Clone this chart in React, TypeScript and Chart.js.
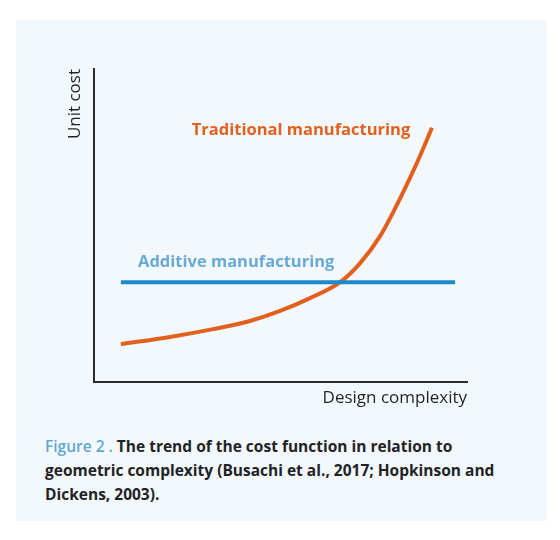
import { useEffect, useRef } from "react"
import { Chart, registerables, type Plugin } from "chart.js"

Chart.register(...registerables)

// traditional manufacturing: unit cost vs design complexity (0-100 relative units)
const tradX = [7.2, 20.4, 31.9, 41.8, 49.9, 57.9, 66.0, 71.3, 76.7, 82.0, 87.4, 90.6]
const tradY = [12.1, 14.4, 16.9, 19.5, 22.7, 26.8, 31.9, 37.9, 46.6, 58.5, 72.2, 81.2]

// additive manufacturing: flat cost
const addX = [7.2, 96.8]
const addY = [31.9, 31.9]

const seriesNames = ["Traditional manufacturing", "Additive manufacturing"]
const axisNames = ["Design complexity", "Unit cost"]

const ORANGE = "#e2601d"
const BLUE = "#1b89cb"
const BLUE_LABEL = "#68aad3"
const INK = "#1f2326"
const FONT = "'Open Sans', sans-serif"

// text labels drawn on the canvas
const textPlugin: Plugin<"scatter"> = {
  id: "texts",
  afterDraw(chart) {
    const { ctx, chartArea, scales } = chart
    const x = scales.x
    const y = scales.y
    ctx.save()

    ctx.font = `700 16.5px ${FONT}`
    ctx.textBaseline = "middle"
    ctx.fillStyle = ORANGE
    ctx.textAlign = "center"
    ctx.fillText(seriesNames[0], x.getPixelForValue(55.5), y.getPixelForValue(80.5))

    ctx.fillStyle = BLUE_LABEL
    ctx.textAlign = "left"
    ctx.fillText(seriesNames[1], x.getPixelForValue(11.8), y.getPixelForValue(38.3))

    ctx.font = `500 17px ${FONT}`
    ctx.fillStyle = INK
    ctx.textAlign = "right"
    ctx.fillText(axisNames[0], chartArea.right, chartArea.bottom + 16)

    ctx.translate(chartArea.left - 19, chartArea.top)
    ctx.rotate(-Math.PI / 2)
    ctx.textAlign = "right"
    ctx.fillText(axisNames[1], 0, 0)

    ctx.restore()
  },
}

function CostChart() {
  const chartRef = useRef<HTMLCanvasElement>(null)
  const chartInstance = useRef<Chart | null>(null)

  useEffect(() => {
    if (!chartRef.current) return
    const ctx = chartRef.current.getContext("2d")
    if (!ctx) return

    if (chartInstance.current) {
      chartInstance.current.destroy()
    }

    chartInstance.current = new Chart(ctx, {
      type: "scatter",
      data: {
        datasets: [
          {
            label: seriesNames[1],
            data: addX.map((v, i) => ({ x: v, y: addY[i] })),
            showLine: true,
            borderColor: BLUE,
            borderWidth: 4,
            pointRadius: 0,
          },
          {
            label: seriesNames[0],
            data: tradX.map((v, i) => ({ x: v, y: tradY[i] })),
            showLine: true,
            borderColor: ORANGE,
            borderWidth: 4,
            pointRadius: 0,
            cubicInterpolationMode: "monotone",
          },
        ],
      },
      options: {
        responsive: true,
        maintainAspectRatio: false,
        animation: false,
        layout: { padding: { left: 78, top: 49, right: 80, bottom: 38 } },
        plugins: {
          legend: { display: false },
          tooltip: { enabled: false },
        },
        scales: {
          x: {
            type: "linear",
            min: 0,
            max: 100,
            grid: { display: false, drawTicks: false },
            ticks: { display: false },
            border: { display: true, color: "#2b2b2b", width: 2 },
            afterFit: (s) => {
              s.height = 0
            },
          },
          y: {
            type: "linear",
            min: 0,
            max: 100,
            grid: { display: false, drawTicks: false },
            ticks: { display: false },
            border: { display: true, color: "#2b2b2b", width: 2 },
            afterFit: (s) => {
              s.width = 0
            },
          },
        },
      },
      plugins: [textPlugin],
    })

    return () => {
      if (chartInstance.current) {
        chartInstance.current.destroy()
        chartInstance.current = null
      }
    }
  }, [])

  return (
    <div style={{ position: "absolute", left: 0, top: 0, width: 531, height: 400 }}>
      <canvas ref={chartRef} />
    </div>
  )
}

export default function App() {
  return (
    <div style={{ position: "fixed", left: 0, top: 0, width: 560, height: 540, background: "#fff" }}>
      <div
        style={{
          position: "absolute",
          left: 16,
          top: 20,
          width: 531,
          height: 501,
          background: "#f3f8fc",
        }}
      >
        <CostChart />
        <div
          style={{
            position: "absolute",
            left: 29,
            top: 414,
            width: 500,
            fontFamily: FONT,
            fontSize: 15.5,
            fontWeight: 700,
            lineHeight: "24px",
            color: INK,
            whiteSpace: "nowrap",
          }}
        >
          <span style={{ color: "#5fa8d3", fontWeight: 600 }}>Figure 2 .</span> The trend of the cost function in
          relation to
          <br />
          geometric complexity (Busachi et al., 2017; Hopkinson and
          <br />
          Dickens, 2003).
        </div>
      </div>
    </div>
  )
}
